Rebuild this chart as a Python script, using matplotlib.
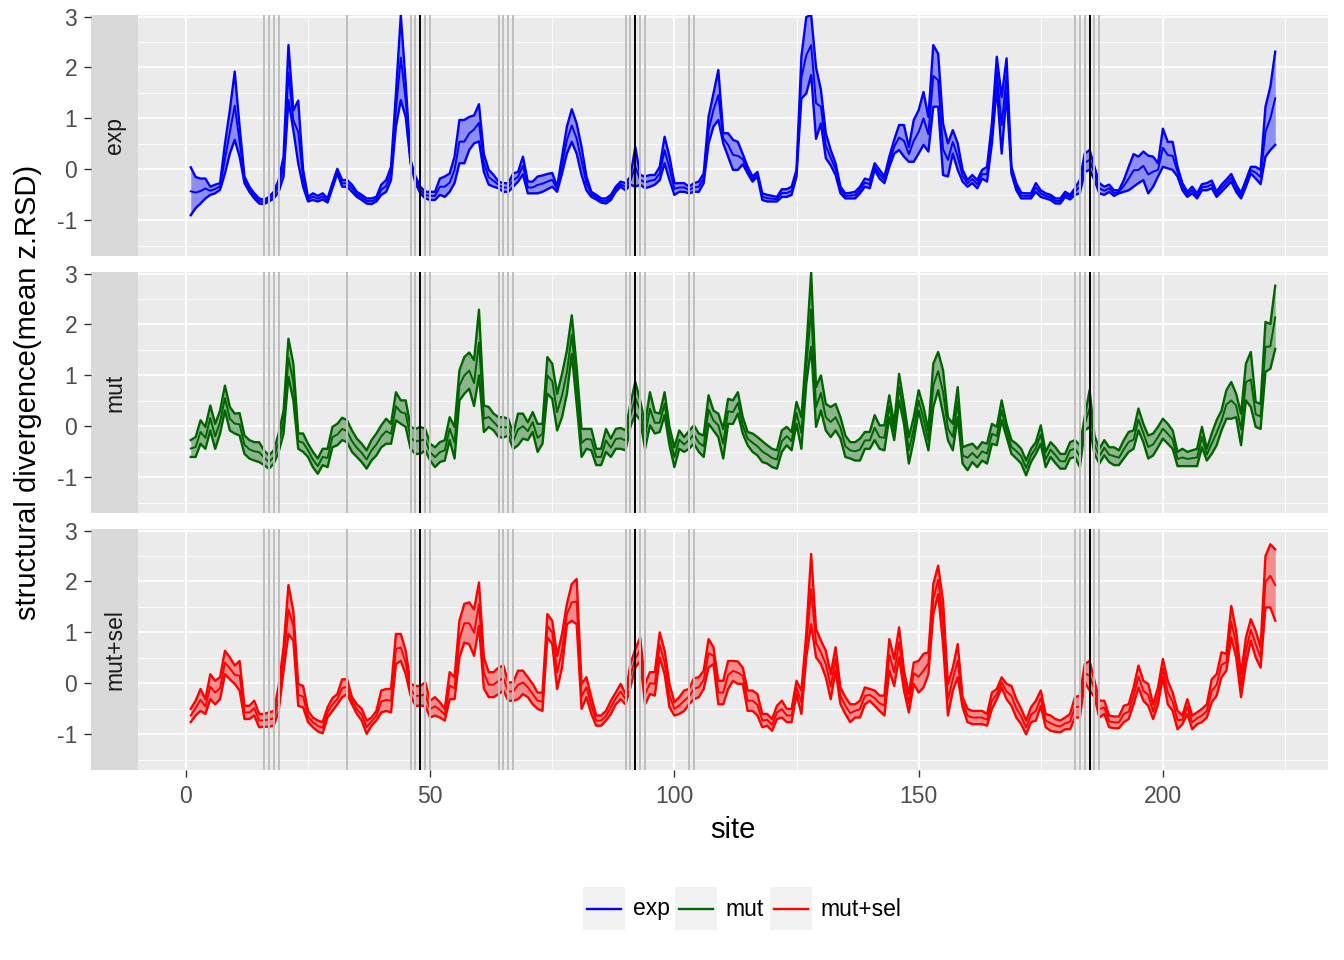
import matplotlib.pyplot as plt
from matplotlib.patches import Rectangle

plt.rcParams['font.family'] = ['Liberation Sans', 'DejaVu Sans']

# sites 1..223
sites = list(range(1, 224))

# upper / lower edge of each ribbon
exp_hi = [
    0.04, -0.15, -0.18, -0.18, -0.34, -0.30, -0.27, 0.50, 1.16, 1.92,
    0.84, -0.14, -0.34, -0.47, -0.57, -0.60, -0.54, -0.44, -0.21, 0.25,
    2.44, 1.16, 1.35, -0.01, -0.54, -0.47, -0.52, -0.47, -0.57, -0.27,
    0.01, -0.21, -0.21, -0.30, -0.44, -0.50, -0.57, -0.57, -0.54, -0.30,
    -0.21, 0.05, 1.49, 3.03, 1.69, 0.18, -0.14, -0.34, -0.44, -0.44,
    -0.44, -0.18, -0.14, -0.08, 0.25, 0.97, 0.97, 1.03, 1.06, 1.28,
    0.30, -0.01, -0.11, -0.24, -0.27, -0.27, -0.08, -0.05, 0.25, -0.24,
    -0.24, -0.14, -0.12, -0.09, -0.07, -0.34, 0.25, 0.84, 1.18, 0.90,
    0.44, -0.14, -0.44, -0.50, -0.57, -0.57, -0.50, -0.34, -0.24, -0.27,
    -0.14, 0.44, -0.11, -0.14, -0.11, -0.11, 0.05, 0.64, 0.25, -0.27,
    -0.27, -0.27, -0.34, -0.27, -0.24, -0.08, 1.03, 1.49, 1.95, 0.71,
    0.71, 0.58, 0.54, 0.30, 0.05, -0.14, -0.05, -0.47, -0.50, -0.52,
    -0.54, -0.39, -0.39, -0.34, -0.01, 2.21, 2.99, 3.03, 2.00, 1.56,
    0.71, 0.38, 0.12, -0.34, -0.47, -0.46, -0.44, -0.34, -0.18, -0.21,
    0.12, -0.01, -0.14, 0.25, 0.58, 0.87, 0.87, 0.44, 0.97, 1.16,
    1.52, 1.03, 2.44, 2.27, 0.90, 0.51, 0.77, 0.51, -0.01, -0.21,
    -0.11, -0.21, -0.01, 0.05, 0.90, 2.21, 1.42, 2.18, 0.05, -0.27,
    -0.46, -0.47, -0.47, -0.27, -0.41, -0.47, -0.50, -0.57, -0.57, -0.44,
    -0.50, -0.37, -0.21, 0.31, 0.38, 0.05, -0.27, -0.34, -0.30, -0.41,
    -0.41, -0.21, 0.05, 0.30, 0.25, 0.35, 0.27, 0.25, 0.12, 0.80,
    0.54, 0.54, 0.05, -0.27, -0.44, -0.34, -0.47, -0.29, -0.27, -0.22,
    -0.44, -0.30, -0.20, -0.09, -0.30, -0.46, -0.21, 0.05, 0.05, -0.01,
    1.23, 1.62, 2.31,
]
exp_lo = [
    -0.90, -0.76, -0.67, -0.57, -0.50, -0.47, -0.40, -0.08, 0.31, 0.58,
    0.25, -0.27, -0.44, -0.57, -0.67, -0.68, -0.63, -0.57, -0.44, -0.14,
    1.36, 0.77, 0.12, -0.34, -0.63, -0.60, -0.63, -0.59, -0.65, -0.37,
    -0.08, -0.34, -0.34, -0.44, -0.54, -0.60, -0.67, -0.68, -0.63, -0.50,
    -0.44, -0.21, 0.84, 1.36, 1.03, 0.12, -0.27, -0.47, -0.57, -0.60,
    -0.60, -0.50, -0.54, -0.44, -0.27, 0.12, 0.12, 0.38, 0.51, 0.55,
    -0.05, -0.30, -0.34, -0.37, -0.44, -0.44, -0.34, -0.24, -0.10, -0.47,
    -0.47, -0.47, -0.44, -0.39, -0.34, -0.44, -0.08, 0.31, 0.54, 0.31,
    -0.11, -0.41, -0.54, -0.59, -0.65, -0.67, -0.60, -0.44, -0.34, -0.41,
    -0.30, -0.34, -0.30, -0.37, -0.34, -0.30, -0.21, 0.12, -0.21, -0.50,
    -0.44, -0.44, -0.47, -0.44, -0.44, -0.27, 0.51, 0.84, 0.97, 0.51,
    0.25, -0.01, -0.01, 0.10, -0.08, -0.24, -0.14, -0.60, -0.63, -0.63,
    -0.63, -0.54, -0.54, -0.50, -0.14, 1.39, 1.49, 1.85, 0.60, 0.90,
    0.22, 0.08, -0.11, -0.47, -0.57, -0.57, -0.57, -0.47, -0.34, -0.37,
    -0.01, -0.18, -0.27, 0.05, 0.31, 0.38, 0.25, 0.15, 0.15, 0.31,
    0.48, 0.35, 1.23, 1.23, -0.11, -0.14, 0.31, -0.01, -0.24, -0.34,
    -0.27, -0.37, -0.18, -0.24, 0.51, 1.62, 0.31, 1.49, -0.08, -0.41,
    -0.57, -0.57, -0.57, -0.44, -0.54, -0.57, -0.60, -0.67, -0.67, -0.54,
    -0.59, -0.50, -0.47, -0.05, -0.01, -0.21, -0.47, -0.50, -0.44, -0.52,
    -0.47, -0.44, -0.41, -0.34, -0.27, -0.21, -0.47, -0.34, -0.14, 0.05,
    0.02, -0.01, -0.14, -0.41, -0.54, -0.47, -0.57, -0.41, -0.41, -0.37,
    -0.54, -0.44, -0.34, -0.24, -0.44, -0.57, -0.34, -0.08, -0.18, -0.29,
    0.25, 0.38, 0.48,
]

mut_hi = [
    -0.27, -0.21, 0.12, -0.01, 0.41, 0.05, 0.31, 0.80, 0.38, 0.25,
    0.26, -0.18, -0.27, -0.31, -0.31, -0.47, -0.57, -0.47, -0.14, 0.31,
    1.72, 1.23, -0.14, -0.14, -0.34, -0.50, -0.63, -0.44, -0.44, -0.01,
    0.05, 0.17, 0.12, -0.08, -0.24, -0.34, -0.47, -0.27, -0.14, 0.02,
    0.15, 0.05, 0.67, 0.51, 0.51, -0.01, -0.05, -0.01, -0.05, -0.34,
    -0.41, -0.31, -0.27, 0.18, -0.01, 1.10, 1.36, 1.45, 1.30, 2.29,
    0.41, 0.38, 0.25, 0.18, 0.18, 0.15, -0.14, 0.25, 0.25, 0.08,
    0.28, 0.05, 0.05, 1.36, 1.23, 0.64, 1.03, 1.49, 2.18, 1.16,
    -0.05, -0.05, -0.05, -0.44, -0.44, -0.05, -0.24, -0.05, -0.03, -0.08,
    0.44, 0.87, 0.51, 0.05, 0.67, 0.28, 0.25, 0.67, -0.01, -0.41,
    -0.08, -0.21, -0.09, 0.02, -0.14, -0.18, 0.61, 0.31, 0.25, -0.05,
    0.54, 0.51, 0.67, 0.18, -0.11, -0.14, -0.21, -0.29, -0.37, -0.44,
    -0.47, -0.08, -0.01, -0.11, 0.48, 0.18, 1.49, 3.03, 0.77, 1.00,
    0.44, 0.38, 0.44, 0.18, -0.18, -0.31, -0.31, -0.24, -0.11, -0.11,
    0.22, 0.02, 0.02, 0.61, 0.05, 1.03, 0.44, -0.21, 0.18, 0.71,
    0.38, -0.08, 1.23, 1.46, 1.10, 0.18, 0.05, 0.77, -0.41, -0.37,
    -0.34, -0.44, -0.31, -0.34, 0.05, -0.01, 0.51, 0.05, -0.27, -0.34,
    -0.44, -0.67, -0.44, -0.31, 0.02, -0.50, -0.31, -0.41, -0.54, -0.54,
    -0.31, -0.27, -0.37, 0.18, 0.71, -0.18, -0.44, -0.27, -0.41, -0.41,
    -0.47, -0.27, -0.11, -0.08, 0.35, 0.05, -0.18, -0.14, -0.01, 0.15,
    0.05, -0.08, -0.50, -0.44, -0.50, -0.47, -0.44, -0.01, -0.44, -0.14,
    0.12, 0.31, 0.71, 0.87, 0.64, 0.25, 1.23, 1.46, 0.48, 0.44,
    2.05, 2.01, 2.76,
]
mut_lo = [
    -0.60, -0.60, -0.34, -0.44, -0.08, -0.44, -0.14, 0.31, -0.08, -0.14,
    -0.18, -0.54, -0.63, -0.67, -0.70, -0.76, -0.83, -0.73, -0.50, -0.14,
    0.97, 0.51, -0.44, -0.50, -0.60, -0.80, -0.93, -0.76, -0.80, -0.41,
    -0.37, -0.27, -0.31, -0.50, -0.60, -0.70, -0.83, -0.67, -0.57, -0.41,
    -0.34, -0.34, 0.12, 0.05, -0.01, -0.44, -0.54, -0.54, -0.47, -0.67,
    -0.80, -0.70, -0.67, -0.27, -0.63, 0.51, 0.64, 0.74, 0.40, 1.00,
    -0.11, -0.01, -0.08, -0.21, -0.22, -0.18, -0.44, -0.37, -0.24, -0.27,
    -0.11, -0.50, -0.34, 0.64, 0.54, -0.08, 0.18, 0.64, 1.42, 0.44,
    -0.60, -0.44, -0.47, -0.76, -0.76, -0.50, -0.60, -0.44, -0.44, -0.47,
    -0.01, 0.25, 0.12, -0.44, 0.02, -0.14, -0.11, 0.22, -0.37, -0.80,
    -0.44, -0.50, -0.44, -0.34, -0.50, -0.60, 0.05, -0.08, -0.21, -0.63,
    0.05, 0.05, 0.25, -0.14, -0.37, -0.50, -0.57, -0.70, -0.73, -0.80,
    -0.83, -0.50, -0.37, -0.47, 0.05, -0.44, 0.84, 1.56, -0.01, 0.31,
    -0.08, -0.21, -0.08, -0.24, -0.60, -0.63, -0.67, -0.67, -0.44, -0.44,
    -0.27, -0.44, -0.47, 0.18, -0.27, 0.51, 0.05, -0.73, -0.27, 0.31,
    -0.08, -0.47, 0.38, 0.71, 0.25, -0.27, -0.47, 0.18, -0.73, -0.86,
    -0.70, -0.80, -0.67, -0.73, -0.34, -0.37, 0.12, -0.21, -0.54, -0.63,
    -0.73, -0.96, -0.70, -0.54, -0.34, -0.80, -0.60, -0.72, -0.83, -0.83,
    -0.63, -0.60, -0.80, -0.08, -0.01, -0.54, -0.73, -0.57, -0.70, -0.76,
    -0.76, -0.63, -0.50, -0.44, -0.08, -0.31, -0.63, -0.57, -0.41, -0.24,
    -0.34, -0.44, -0.78, -0.78, -0.78, -0.78, -0.78, -0.41, -0.67, -0.54,
    -0.37, -0.08, 0.15, 0.15, 0.18, -0.37, 0.51, 0.38, -0.01, -0.05,
    1.07, 1.13, 1.52,
]

sel_hi = [
    -0.50, -0.34, -0.11, -0.31, 0.18, 0.05, 0.12, 0.64, 0.51, 0.35,
    0.44, -0.44, -0.44, -0.34, -0.60, -0.60, -0.57, -0.54, -0.05, 0.71,
    1.93, 1.42, -0.01, -0.05, -0.54, -0.67, -0.73, -0.76, -0.47, -0.29,
    -0.21, 0.08, 0.08, -0.27, -0.41, -0.50, -0.73, -0.67, -0.54, -0.14,
    -0.11, -0.11, 0.97, 0.97, 0.64, -0.01, -0.05, -0.05, 0.02, -0.34,
    -0.27, -0.37, -0.50, 0.22, 0.12, 1.23, 1.56, 1.59, 1.45, 1.98,
    0.51, 0.22, 0.22, 0.31, 0.35, 0.02, 0.02, 0.25, 0.25, 0.12,
    -0.01, -0.18, -0.18, 1.36, 1.23, 0.54, 0.97, 1.56, 1.95, 2.05,
    -0.01, 0.12, -0.27, -0.63, -0.63, -0.54, -0.34, -0.18, -0.01, -0.21,
    0.38, 0.67, 0.90, -0.01, 0.22, 0.22, 1.00, 0.64, -0.01, -0.37,
    -0.27, -0.14, -0.11, 0.10, 0.12, 0.25, 0.87, 0.71, 0.05, 0.05,
    0.44, 0.44, 0.43, 0.31, -0.14, -0.14, -0.21, -0.60, -0.60, -0.70,
    -0.44, -0.34, -0.50, -0.50, 0.05, -0.14, 0.97, 2.54, 1.07, 0.84,
    0.64, 0.18, 0.71, -0.08, -0.27, -0.41, -0.41, -0.34, -0.08, -0.11,
    -0.14, -0.24, -0.24, 0.87, 0.48, 1.10, 0.25, -0.21, 0.41, 0.44,
    0.58, 0.61, 1.95, 2.31, 1.62, -0.01, 0.31, 0.77, -0.27, -0.50,
    -0.54, -0.54, -0.54, -0.60, -0.18, -0.11, 0.12, -0.01, -0.05, -0.31,
    -0.50, -0.73, -0.47, -0.34, -0.14, -0.60, -0.63, -0.70, -0.73, -0.67,
    -0.60, -0.27, -0.24, 0.38, 0.44, 0.05, -0.34, -0.34, -0.63, -0.65,
    -0.65, -0.44, -0.41, -0.08, 0.35, 0.05, -0.01, -0.41, -0.08, 0.48,
    0.05, -0.18, -0.54, -0.63, -0.31, -0.63, -0.57, -0.50, -0.41, 0.08,
    0.18, 0.61, 0.58, 1.52, 1.03, 0.18, 0.90, 1.26, 1.03, 0.71,
    2.50, 2.73, 2.63,
]
sel_lo = [
    -0.76, -0.63, -0.54, -0.60, -0.31, -0.41, -0.31, 0.18, 0.08, -0.01,
    -0.14, -0.70, -0.70, -0.63, -0.86, -0.85, -0.85, -0.83, -0.54, 0.25,
    0.97, 0.84, -0.44, -0.47, -0.76, -0.86, -0.94, -0.98, -0.67, -0.54,
    -0.41, -0.27, -0.21, -0.41, -0.60, -0.73, -0.99, -0.83, -0.73, -0.57,
    -0.54, -0.57, 0.38, 0.44, 0.18, -0.24, -0.44, -0.44, -0.44, -0.67,
    -0.63, -0.67, -0.73, -0.31, -0.31, 0.51, 0.80, 0.77, 0.54, 1.13,
    -0.10, -0.27, -0.27, -0.21, -0.14, -0.34, -0.34, -0.31, -0.21, -0.27,
    -0.41, -0.50, -0.54, 0.90, 0.77, -0.11, 0.31, 1.16, 1.23, 1.16,
    -0.50, -0.27, -0.60, -0.83, -0.83, -0.73, -0.60, -0.41, -0.31, -0.41,
    -0.08, 0.31, 0.44, -0.41, -0.21, -0.24, 0.51, 0.18, -0.47, -0.63,
    -0.60, -0.54, -0.41, -0.31, -0.27, -0.11, 0.31, 0.38, -0.41, -0.41,
    -0.11, 0.05, -0.01, -0.01, -0.54, -0.54, -0.63, -0.86, -0.83, -0.93,
    -0.70, -0.67, -0.76, -0.76, -0.21, -0.60, 0.51, 1.16, 0.51, 0.38,
    0.12, -0.31, 0.25, -0.41, -0.60, -0.76, -0.67, -0.67, -0.41, -0.34,
    -0.44, -0.54, -0.63, 0.25, -0.05, 0.51, -0.14, -0.57, -0.01, -0.18,
    -0.08, 0.18, 1.36, 1.75, 0.77, -0.63, -0.14, 0.12, -0.47, -0.76,
    -0.80, -0.80, -0.80, -0.83, -0.50, -0.31, -0.08, -0.31, -0.44, -0.67,
    -0.80, -1.00, -0.76, -0.73, -0.44, -0.86, -0.93, -0.95, -0.96, -0.90,
    -0.90, -0.67, -0.67, 0.02, -0.14, -0.27, -0.67, -0.60, -0.86, -0.88,
    -0.88, -0.76, -0.70, -0.41, -0.08, -0.34, -0.44, -0.70, -0.41, 0.12,
    -0.41, -0.54, -0.90, -0.80, -0.60, -0.90, -0.80, -0.76, -0.67, -0.37,
    -0.24, 0.12, 0.25, 0.90, 0.51, -0.27, 0.38, 0.84, 0.51, 0.31,
    1.49, 1.49, 1.23,
]

panel_names = ['exp', 'mut', 'mut+sel']
panel_colors = ['#0000FF', '#006400', '#FF0000']
panel_hi = [exp_hi, mut_hi, sel_hi]
panel_lo = [exp_lo, mut_lo, sel_lo]

# marked sites (vertical lines)
gray_sites = [16, 17, 18, 19, 33, 46, 47, 49, 50, 64, 65, 66, 67,
              90, 91, 93, 94, 103, 104, 182, 183, 184, 186, 187]
black_sites = [48, 92, 185]

x_ticks = [0, 50, 100, 150, 200]
y_ticks = [-1, 0, 1, 2, 3]

W, H = 1344, 960


def px_box(left, top, right, bottom):
    # pixel box -> figure fraction rect
    return [left / W, 1 - bottom / H, (right - left) / W, (bottom - top) / H]


fig = plt.figure(figsize=(W / 100, H / 100), dpi=100)
fig.patch.set_facecolor('white')

panel_tops = [15, 272, 529]
panel_h = 241
xlim = (-9.8, 233.8)
ylim = (-1.70, 3.03)

for i, name in enumerate(panel_names):
    top = panel_tops[i]
    col = panel_colors[i]
    hi = panel_hi[i]
    lo = panel_lo[i]
    mid = [(a + b) / 2 for a, b in zip(lo, hi)]

    ax = fig.add_axes(px_box(138, top, 1328, top + panel_h))
    ax.set_facecolor('#EBEBEB')
    ax.set_xlim(*xlim)
    ax.set_ylim(*ylim)
    ax.set_xticks(x_ticks)
    ax.set_xticks([25, 75, 125, 175, 225], minor=True)
    ax.set_yticks(y_ticks)
    ax.set_yticks([-1.5, -0.5, 0.5, 1.5, 2.5], minor=True)
    ax.grid(which='major', color='white', lw=1.3)
    ax.grid(which='minor', color='white', lw=0.6)
    ax.set_axisbelow(True)
    for sp in ax.spines.values():
        sp.set_visible(False)
    ax.tick_params(which='both', left=False, labelleft=False)
    ax.tick_params(which='minor', bottom=False)
    if i == 2:
        ax.tick_params(which='major', bottom=True, length=5, width=1.0, color='#333333',
                       labelsize=16.5, labelcolor='#4D4D4D', pad=6)
    else:
        ax.tick_params(which='major', bottom=False, labelbottom=False)

    # ribbon + edges + mean
    ax.fill_between(sites, lo, hi, color=col, alpha=0.4, lw=0, zorder=2)
    ax.plot(sites, hi, color=col, lw=1.7, zorder=3)
    ax.plot(sites, lo, color=col, lw=1.7, zorder=3)
    ax.plot(sites, mid, color=col, lw=1.4, zorder=3)

    for s in gray_sites:
        ax.axvline(s, color='#BEBEBE', lw=1.4, zorder=5)
    for s in black_sites:
        ax.axvline(s, color='black', lw=1.4, zorder=6)

    # facet strip on the left, y axis outside of it
    sax = fig.add_axes(px_box(91, top, 138, top + panel_h))
    sax.set_facecolor('#D9D9D9')
    sax.set_ylim(*ylim)
    sax.set_xticks([])
    sax.set_yticks(y_ticks)
    sax.set_yticklabels([str(v) for v in y_ticks])
    sax.tick_params(axis='y', length=5, width=1.0, color='#333333',
                    labelsize=16.5, labelcolor='#4D4D4D', pad=5)
    for sp in sax.spines.values():
        sp.set_visible(False)
    sax.text(0.5, 0.5, name, rotation=90, transform=sax.transAxes,
             ha='center', va='center', fontsize=16.5, color='#1A1A1A')

fig.text(28 / W, 1 - 392 / H, 'structural divergence(mean z.RSD)', rotation=90,
         ha='center', va='center', fontsize=21)
fig.text(733 / W, 1 - 830 / H, 'site', ha='center', va='center', fontsize=21)

# Legend at the bottom, drawn in pixel space
lax = fig.add_axes([0, 0, 1, 1], zorder=-1)
lax.set_xlim(0, W)
lax.set_ylim(H, 0)
lax.axis('off')
key_left = [583, 675, 770]
for k, name in enumerate(panel_names):
    x0 = key_left[k]
    lax.add_patch(Rectangle((x0, 887), 42, 43, facecolor='#F2F2F2', edgecolor='none'))
    lax.plot([x0 + 4, x0 + 38], [909, 909], color=panel_colors[k], lw=1.7)
    lax.text(x0 + 50, 909, name, ha='left', va='center', fontsize=16.5)

fig.savefig('out.png', dpi=100)
